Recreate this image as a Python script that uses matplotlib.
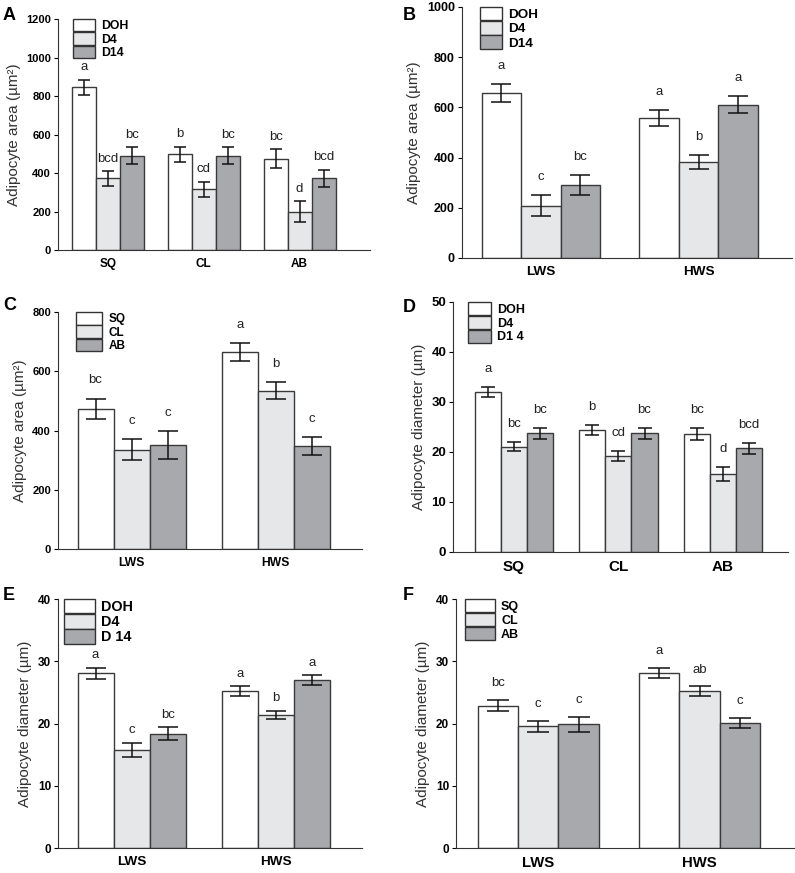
import numpy as np
import matplotlib
matplotlib.use("Agg")
import matplotlib.pyplot as plt

plt.rcParams['font.family'] = ['Liberation Sans', 'DejaVu Sans']

# ---- data ----
depots = ['SQ', 'CL', 'AB']
groups_ws = ['LWS', 'HWS']
days = ['DOH', 'D4', 'D14']

# A: area by depot
a_doh = [845, 497, 475]
a_doh_err = [40, 40, 48]
a_d4 = [372, 316, 200]
a_d4_err = [37, 38, 53]
a_d14 = [490, 490, 372]
a_d14_err = [45, 45, 44]
a_let = [['a', 'b', 'bc'], ['bcd', 'cd', 'd'], ['bc', 'bc', 'bcd']]

# B: area by wool group x day
b_doh = [657, 556]
b_doh_err = [37, 32]
b_d4 = [209, 383]
b_d4_err = [42, 27]
b_d14 = [290, 611]
b_d14_err = [40, 33]
b_let = [['a', 'a'], ['c', 'b'], ['bc', 'a']]

# C: area by wool group x depot
c_sq = [473, 666]
c_sq_err = [35, 30]
c_cl = [335, 535]
c_cl_err = [35, 30]
c_ab = [350, 348]
c_ab_err = [47, 30]
c_let = [['bc', 'a'], ['c', 'b'], ['c', 'c']]

# D: diameter by depot
d_doh = [32.0, 24.4, 23.5]
d_doh_err = [1.0, 1.0, 1.2]
d_d4 = [21.0, 19.2, 15.6]
d_d4_err = [0.9, 1.0, 1.4]
d_d14 = [23.7, 23.7, 20.7]
d_d14_err = [1.1, 1.1, 1.1]
d_let = [['a', 'b', 'bc'], ['bc', 'cd', 'd'], ['bc', 'bc', 'bcd']]

# E: diameter by wool group x day
e_doh = [28.1, 25.2]
e_doh_err = [0.9, 0.8]
e_d4 = [15.8, 21.4]
e_d4_err = [1.1, 0.7]
e_d14 = [18.4, 27.0]
e_d14_err = [1.0, 0.8]
e_let = [['a', 'a'], ['c', 'b'], ['bc', 'a']]

# F: diameter by wool group x depot
f_sq = [22.9, 28.2]
f_sq_err = [0.9, 0.8]
f_cl = [19.6, 25.2]
f_cl_err = [0.9, 0.8]
f_ab = [19.9, 20.1]
f_ab_err = [1.2, 0.8]
f_let = [['bc', 'a'], ['c', 'ab'], ['c', 'c']]

colors = ['#ffffff', '#e6e7e9', '#a7a9ac']
edge = '#3a3a3a'
area_lab = 'Adipocyte area (µm²)'
diam_lab = 'Adipocyte diameter (µm)'


def draw_panel(ax, cats, names, vals, errs, letters, ymax, ystep, xlim,
               ylabel, capsize, let_off, tick_fs, xlab_fs, leg_fs, leg_box,
               leg_xy, let_fs=9.5, ylab_fs=11):
    x = np.arange(len(cats))
    w = 0.25
    for i in range(3):
        pos = x + (i - 1) * w
        ax.bar(pos, vals[i], w, color=colors[i], edgecolor=edge, linewidth=1.0,
               label=names[i], zorder=2)
        ax.errorbar(pos, vals[i], yerr=errs[i], fmt='none', ecolor='#111111',
                    elinewidth=1.1, capsize=capsize, capthick=1.1, zorder=3)
        for j in range(len(cats)):
            ax.annotate(letters[i][j], (pos[j], vals[i][j] + errs[i][j]),
                        xytext=(0, let_off), textcoords='offset points',
                        ha='center', va='center', fontsize=let_fs,
                        color='#222222')
    ax.set_xlim(*xlim)
    ax.set_ylim(0, ymax)
    ax.set_yticks(np.arange(0, ymax + ystep / 2, ystep))
    ax.set_xticks(x)
    ax.set_xticklabels(cats, fontweight='bold', fontsize=xlab_fs)
    ax.tick_params(axis='x', length=0, pad=6)
    ax.tick_params(axis='y', length=3, width=0.8, labelsize=tick_fs, pad=2)
    for t in ax.get_yticklabels():
        t.set_fontweight('bold')
    ax.spines['top'].set_visible(False)
    ax.spines['right'].set_visible(False)
    ax.spines['left'].set_color('#333333')
    ax.spines['bottom'].set_color('#333333')
    ax.set_ylabel(ylabel, fontsize=ylab_fs, color='#333333')
    # legend handle size given in pixels
    fpx = leg_fs * 100 / 72
    leg = ax.legend(loc='upper left', bbox_to_anchor=leg_xy, frameon=False,
                    handlelength=leg_box[0] / fpx, handleheight=leg_box[1] / fpx,
                    labelspacing=0, handletextpad=6 / fpx, borderaxespad=0,
                    borderpad=0, prop={'weight': 'bold', 'size': leg_fs})
    for h in leg.legend_handles:
        h.set_edgecolor('#333333')
        h.set_linewidth(1.0)


fig = plt.figure(figsize=(7.95, 8.73), dpi=100)

axA = fig.add_axes([0.073, 0.7136, 0.392, 0.2646])
draw_panel(axA, depots, days, [a_doh, a_d4, a_d14],
           [a_doh_err, a_d4_err, a_d14_err], a_let, 1200, 200, (-0.52, 2.73),
           area_lab, 4.3, 9, 8, 8.5, 8.8, (22, 14.5), (0.048, 1.0))

axB = fig.add_axes([0.581, 0.7045, 0.415, 0.2875])
draw_panel(axB, groups_ws, days, [b_doh, b_d4, b_d14],
           [b_doh_err, b_d4_err, b_d14_err], b_let, 1000, 200, (-0.50, 1.59),
           area_lab, 7.2, 13, 9, 9.7, 9.7, (22, 15.5), (0.055, 1.0))

axC = fig.add_axes([0.073, 0.3711, 0.382, 0.2715])
draw_panel(axC, groups_ws, ['SQ', 'CL', 'AB'], [c_sq, c_cl, c_ab],
           [c_sq_err, c_cl_err, c_ab_err], c_let, 800, 200, (-0.51, 1.595),
           area_lab, 7.5, 13, 8, 8.7, 8.5, (26, 15), (0.06, 1.0))

axD = fig.add_axes([0.570, 0.3677, 0.421, 0.2864])
draw_panel(axD, depots, ['DOH', 'D4', 'D1 4'], [d_doh, d_d4, d_d14],
           [d_doh_err, d_d4_err, d_d14_err], d_let, 50, 10, (-0.58, 2.62),
           diam_lab, 5.2, 13, 9.5, 11, 9, (23, 15.5), (0.045, 1.0))

axE = fig.add_axes([0.073, 0.0286, 0.382, 0.285])
draw_panel(axE, groups_ws, ['DOH', 'D4', 'D 14'], [e_doh, e_d4, e_d14],
           [e_doh_err, e_d4_err, e_d14_err], e_let, 40, 10, (-0.51, 1.595),
           diam_lab, 7, 9, 8.5, 9.7, 10.4, (31, 16.5), (0.02, 1.0))

axF = fig.add_axes([0.5736, 0.0286, 0.426, 0.285])
draw_panel(axF, groups_ws, ['SQ', 'CL', 'AB'], [f_sq, f_cl, f_ab],
           [f_sq_err, f_cl_err, f_ab_err], f_let, 40, 10, (-0.51, 1.59),
           diam_lab, 8, 12, 8.5, 10.7, 9, (30, 15.5), (0.027, 1.0))

# panel letters
for lab, (px, py) in zip('ABCDEF', [(3, 15), (403, 15), (3, 305),
                                     (403, 307), (3, 595), (403, 595)]):
    fig.text(px / 795, 1 - py / 873, lab, fontsize=13, fontweight='bold',
             va='center', ha='left')

fig.savefig('out.png', dpi=100)
